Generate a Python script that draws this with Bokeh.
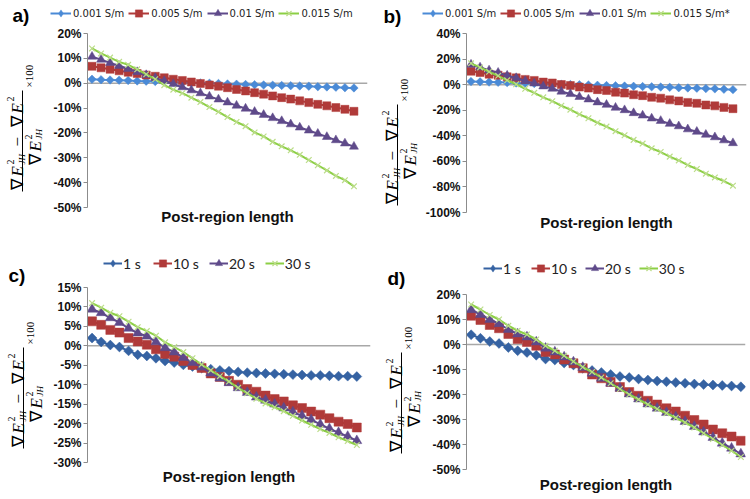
import math
from bokeh.plotting import figure
from bokeh.models import (Range1d, FixedTicker, PrintfTickFormatter, Span,
                          Legend, LegendItem, Label)
from bokeh.layouts import column, row
from bokeh.embed import file_html
from bokeh.resources import INLINE

# ---------------- data (values in %) ----------------
post_region = list(range(1, 31))

sigma_labels_a = ["0.001 S/m", "0.005 S/m", "0.01 S/m", "0.015 S/m"]
sigma_labels_b = ["0.001 S/m", "0.005 S/m", "0.01 S/m", "0.015 S/m*"]
time_labels = ["1 s", "10 s", "20 s", "30 s"]

a_s0001 = [1.6, 1.4, 1.3, 1.2, 1.1, 0.9, 0.8, 0.7, 0.6, 0.5, 0.3, 0.2, 0.1, 0.0, -0.1,
           -0.3, -0.4, -0.5, -0.6, -0.7, -0.8, -0.9, -1.0, -1.1, -1.2, -1.4, -1.5, -1.6, -1.8, -1.9]
a_s0005 = [6.8, 6.2, 5.6, 5.0, 4.4, 3.9, 3.3, 2.8, 2.2, 1.6, 1.1, 0.5, -0.1, -0.7, -1.2,
           -1.8, -2.5, -3.1, -3.8, -4.4, -5.1, -5.8, -6.4, -7.1, -7.8, -8.5, -9.1, -9.8, -10.5, -11.3]
a_s001 = [10.7, 9.5, 8.2, 7.0, 5.8, 4.5, 3.3, 2.1, 0.9, -0.3, -1.6, -2.8, -4.0, -5.3, -6.5,
          -7.7, -9.0, -10.2, -11.5, -12.7, -14.0, -15.2, -16.5, -17.8, -19.0, -20.3, -21.6, -22.9, -24.2, -25.5]
a_s0015 = [14.0, 12.0, 10.3, 8.6, 7.4, 5.6, 3.6, 1.6, -0.8, -2.6, -4.0, -5.8, -7.6, -9.6, -11.5,
           -13.6, -15.6, -17.3, -19.8, -21.4, -23.6, -25.4, -27.0, -28.8, -30.9, -33.0, -35.1, -37.3, -39.0, -41.5]

b_s0001 = [2.4, 2.2, 2.0, 1.8, 1.6, 1.3, 1.1, 0.9, 0.7, 0.5, 0.3, 0.1, -0.1, -0.3, -0.5,
           -0.7, -0.9, -1.1, -1.3, -1.5, -1.7, -1.9, -2.1, -2.4, -2.6, -2.8, -3.1, -3.3, -3.6, -3.9]
b_s0005 = [10.5, 9.5, 8.2, 7.4, 6.1, 5.3, 4.1, 3.3, 2.0, 1.3, 0.1, -0.7, -1.9, -2.7, -3.9,
           -4.6, -5.9, -6.6, -7.9, -8.6, -9.9, -10.6, -11.9, -12.7, -13.9, -14.6, -15.9, -16.6, -17.8, -18.8]
b_s001 = [15.7, 13.5, 11.2, 9.4, 7.1, 5.2, 2.9, 1.0, -1.3, -3.1, -5.4, -7.3, -9.6, -11.5, -13.8,
          -15.7, -18.0, -19.9, -22.2, -24.1, -26.4, -28.3, -30.6, -32.5, -34.9, -36.8, -39.1, -41.1, -43.5, -45.7]
b_s0015 = [16.7, 13.5, 10.1, 6.9, 3.4, 0.3, -3.2, -6.4, -9.9, -12.9, -16.5, -19.6, -23.2, -26.3, -29.8,
           -32.8, -36.4, -39.6, -43.2, -46.1, -49.8, -52.7, -56.3, -59.3, -62.9, -66.0, -69.6, -72.6, -75.4, -79.0]

c_t1 = [2.0, 1.0, 0.2, -0.3, -1.3, -2.3, -2.6, -3.2, -3.9, -4.3, -4.9, -5.3, -5.7, -6.0, -6.3,
        -6.5, -6.7, -6.9, -7.0, -7.1, -7.2, -7.3, -7.4, -7.5, -7.6, -7.6, -7.7, -7.8, -7.8, -7.9]
c_t10 = [6.3, 5.4, 4.1, 3.4, 2.0, 1.1, 0.3, -0.9, -2.1, -2.8, -3.9, -4.9, -5.7, -7.1, -8.0,
         -9.0, -10.0, -11.1, -11.8, -12.8, -13.7, -14.3, -15.3, -16.0, -16.9, -17.7, -18.6, -19.5, -20.1, -21.0]
c_t20 = [9.4, 8.5, 7.2, 6.0, 4.5, 3.3, 2.5, 1.0, -0.5, -1.6, -3.0, -4.3, -5.5, -7.0, -8.3,
         -9.5, -10.8, -12.0, -13.2, -14.0, -15.0, -16.0, -17.0, -18.0, -19.0, -20.2, -21.3, -22.3, -23.3, -24.4]
c_t30 = [11.0, 9.8, 8.5, 7.6, 6.2, 4.8, 3.8, 2.6, 0.9, -0.3, -1.6, -3.2, -4.8, -6.3, -7.8,
         -9.2, -10.8, -12.2, -13.6, -14.8, -15.8, -16.8, -18.0, -19.2, -20.3, -21.4, -22.4, -23.5, -24.5, -25.5]

d_t1 = [3.9, 2.5, 1.2, 0.4, -1.2, -2.5, -3.2, -4.3, -5.8, -6.2, -7.4, -8.2, -9.5, -10.4, -11.2,
        -12.0, -12.8, -13.2, -13.8, -14.2, -14.6, -14.9, -15.2, -15.5, -15.8, -16.0, -16.2, -16.4, -16.6, -16.9]
d_t10 = [11.5, 9.8, 7.8, 6.5, 4.2, 2.2, 1.0, -0.5, -3.0, -4.0, -6.0, -7.5, -9.5, -12.0, -13.5,
         -15.0, -17.0, -19.0, -20.5, -22.5, -24.0, -25.5, -26.8, -28.5, -30.2, -32.0, -34.0, -35.5, -36.8, -38.5]
d_t20 = [13.9, 12.0, 10.0, 8.3, 6.0, 4.2, 3.0, 1.0, -1.5, -3.0, -5.0, -7.0, -9.2, -11.5, -13.5,
         -15.5, -17.5, -19.8, -21.8, -23.8, -25.5, -27.2, -29.0, -30.8, -32.8, -35.0, -37.2, -39.5, -41.5, -43.8]
d_t30 = [16.0, 14.0, 11.8, 10.0, 7.5, 5.5, 4.0, 2.0, -0.5, -2.5, -4.5, -6.8, -9.0, -11.0, -13.2,
         -15.5, -17.8, -20.0, -22.0, -24.0, -25.8, -27.5, -29.3, -31.2, -33.2, -35.5, -37.8, -40.2, -42.5, -45.0]

a_ticks = [-50, -40, -30, -20, -10, 0, 10, 20]
b_ticks = [-100, -80, -60, -40, -20, 0, 20, 40]
c_ticks = [-30, -25, -20, -15, -10, -5, 0, 5, 10, 15]
d_ticks = [-50, -40, -30, -20, -10, 0, 10, 20]

x_title = "Post-region length"

# ---------------- styles ----------------
W1, W2 = 375, 375
H1, H2 = 250, 248
TOP_PAD = 8

BLUE_AB = "#4a8ad6"
BLUE_CD = "#3562a2"
RED = "#b03a39"
PURPLE = "#5f4a8a"
GREEN = "#8ccf45"
GREEN_MK = "#bcdd8a"

MATH_FONT = "Liberation Serif"
# (u along text, dv across, text, size, style)
MATH_RUNS = [
    (0, 0, "∇", 17, "normal"),
    (13, 0, "E", 17, "italic"),
    (25, -7, "2", 10, "normal"),
    (25, 4, "JH", 9, "italic"),
    (43, 0, "−", 17, "normal"),
    (63, 0, "∇", 17, "normal"),
    (76, 0, "E", 17, "italic"),
    (88, -7, "2", 10, "normal"),
    (25, 18, "∇", 17, "normal"),
    (38, 18, "E", 17, "italic"),
    (50, 11, "2", 10, "normal"),
    (50, 21, "JH", 9, "italic"),
    (102, 11, "×100", 11, "normal"),
]
BAR = (-2, 99, 5)


def bare_fig(w, h):
    f = figure(width=w, height=h, output_backend="svg", toolbar_location=None,
               x_range=Range1d(0, w), y_range=Range1d(0, h),
               x_axis_location=None, y_axis_location=None,
               min_border=0, min_border_left=0, min_border_right=0,
               min_border_top=0, min_border_bottom=0, frame_align=False)
    f.outline_line_color = None
    f.grid.visible = False
    f.background_fill_color = "white"
    f.border_fill_color = "white"
    return f


def marker_kw(mk):
    # Excel-style diamond = square turned by 45 degrees
    if mk == "diamond":
        return dict(marker="square", angle=math.pi / 4)
    return dict(marker=mk)


def make_panel(spec):
    ox, oy, w, h = spec["box"]
    L, R, T, B = spec["frame"]
    lw = spec["lw"]
    bl = (L - ox) - lw
    br = w - (R - ox)
    bt = T - oy
    bb = h - (B - oy)
    hh = bt - TOP_PAD
    mw = w - lw
    mh = h - hh

    # ---- main chart ----
    p = figure(width=mw, height=mh, output_backend="svg", toolbar_location=None,
               x_range=Range1d(*spec["xr"]), y_range=Range1d(*spec["yr"]),
               min_border_left=bl, min_border_right=br,
               min_border_top=TOP_PAD, min_border_bottom=bb, frame_align=False)
    p.outline_line_color = None
    p.grid.visible = False
    p.background_fill_color = "white"
    p.border_fill_color = "white"

    ya = p.yaxis[0]
    ya.ticker = FixedTicker(ticks=spec["ticks"])
    ya.formatter = PrintfTickFormatter(format="%d%%")
    ya.major_label_text_font = "Liberation Sans"
    ya.major_label_text_font_size = "12px"
    ya.major_label_text_font_style = "bold"
    ya.major_label_text_color = "#111111"
    ya.axis_line_color = "#8c8c8c"
    ya.major_tick_line_color = "#8c8c8c"
    ya.major_tick_out = 4
    ya.major_tick_in = 0
    ya.minor_tick_out = 0
    ya.minor_tick_in = 0
    ya.major_label_standoff = 2

    xa = p.xaxis[0]
    xa.ticker = FixedTicker(ticks=[])
    xa.axis_line_color = None
    xa.major_tick_line_color = None
    xa.minor_tick_line_color = None
    xa.major_tick_out = 0
    xa.major_tick_in = 0
    xa.axis_label = x_title
    xa.axis_label_text_font = "Liberation Sans"
    xa.axis_label_text_font_size = "15px"
    xa.axis_label_text_font_style = "bold"
    xa.axis_label_text_color = "#111111"
    xa.axis_label_standoff = spec["standoff"]

    p.add_layout(Span(location=0, dimension="width", line_color="#a8a8a8",
                      line_width=1.5, level="underlay"))

    # ---- header with legend key (key glyphs use off-range samples) ----
    hdr = bare_fig(mw, hh)
    items = []
    for (vals, label, color, mk, size, mline) in spec["series"]:
        p.line(post_region, vals, line_color=color, line_width=2)
        if mk == "x":
            p.scatter(post_region, vals, marker="x", size=size,
                      line_color=mline, line_width=1.2)
            k_s = hdr.scatter([-50], [-50], marker="x", size=size,
                              line_color=mline, line_width=1.2)
        else:
            p.scatter(post_region, vals, size=size, fill_color=color,
                      line_color=color, line_width=0.5, **marker_kw(mk))
            k_s = hdr.scatter([-50], [-50], marker=mk, size=size, fill_color=color,
                              line_color=color, line_width=0.5)
        k_l = hdr.line([-60, -50], [-50, -50], line_color=color, line_width=2)
        items.append(LegendItem(label=label, renderers=[k_l, k_s]))

    gh = spec["leg_gh"]
    lx, ly = spec["legend"]
    vx = (lx - ox) - lw
    vy = hh - ((ly - oy) + gh / 2)
    leg = Legend(items=items, orientation="horizontal", location=(vx, vy),
                 glyph_width=spec["leg_gw"], glyph_height=gh,
                 label_standoff=spec["leg_so"],
                 spacing=spec["leg_sp"], padding=0, margin=0,
                 border_line_color=None, background_fill_alpha=0,
                 label_text_font=spec["leg_font"],
                 label_text_font_size=spec["leg_size"],
                 label_height=gh, label_text_baseline="middle",
                 label_text_color="#222222")
    hdr.add_layout(leg)

    # ---- left strip: panel tag and y-axis formula ----
    lf = bare_fig(lw, h)
    tx, ty = spec["tag_pos"]
    lf.add_layout(Label(x=tx - ox, y=h - (ty - oy), text=spec["tag"],
                        text_font="Liberation Sans", text_font_size="19px",
                        text_font_style="bold", text_align="left",
                        text_baseline="middle", text_color="#000000"))
    ax, ay = spec["math"]
    for (u, dv, txt, sz, st) in MATH_RUNS:
        lf.add_layout(Label(x=(ax - ox) + dv, y=h - ((ay - oy) - u), text=txt,
                            angle=math.pi / 2, text_font=MATH_FONT,
                            text_font_size=f"{sz}px", text_font_style=st,
                            text_align="left", text_baseline="alphabetic",
                            text_color="#000000"))
    u0, u1, dv = BAR
    bx = (ax - ox) + dv
    lf.segment(x0=[bx], y0=[h - ((ay - oy) - u0)], x1=[bx], y1=[h - ((ay - oy) - u1)],
               line_color="#000000", line_width=1)

    return row(lf, column(hdr, p))


def sig_series(v1, v2, v3, v4, labels, blue):
    return [
        (v1, labels[0], blue, "diamond", 6, blue),
        (v2, labels[1], RED, "square", 8, RED),
        (v3, labels[2], PURPLE, "triangle", 9, PURPLE),
        (v4, labels[3], GREEN, "x", 8, GREEN_MK),
    ]


def time_series(v1, v2, v3, v4):
    return [
        (v1, time_labels[0], BLUE_CD, "diamond", 7, BLUE_CD),
        (v2, time_labels[1], RED, "square", 9, RED),
        (v3, time_labels[2], PURPLE, "triangle", 10, PURPLE),
        (v4, time_labels[3], GREEN, "x", 8, GREEN_MK),
    ]


spec_a = dict(box=(0, 0, W1, H1), frame=(87, 367, 33, 207), lw=46, xr=(0.5, 31.5), yr=(-50, 20),
              ticks=a_ticks, standoff=0,
              series=sig_series(a_s0001, a_s0005, a_s001, a_s0015, sigma_labels_a, BLUE_AB),
              legend=(50, 13), leg_gh=18, leg_gw=21, leg_so=2, leg_sp=4,
              leg_font="DejaVu Sans", leg_size="10px",
              tag="a)", tag_pos=(12, 14.5), math=(17, 189))
spec_b = dict(box=(W1, 0, W2, H1), frame=(462, 746, 33, 212), lw=47, xr=(0.5, 31.5), yr=(-100, 40),
              ticks=b_ticks, standoff=1,
              series=sig_series(b_s0001, b_s0005, b_s001, b_s0015, sigma_labels_b, BLUE_AB),
              legend=(422, 13), leg_gh=18, leg_gw=21, leg_so=2, leg_sp=4,
              leg_font="DejaVu Sans", leg_size="10px",
              tag="b)", tag_pos=(383, 15.5), math=(392, 203))
spec_c = dict(box=(0, H1, W1, H2), frame=(87, 370, 287, 462), lw=46, xr=(0.5, 31.5), yr=(-30, 15),
              ticks=c_ticks, standoff=5,
              series=time_series(c_t1, c_t10, c_t20, c_t30),
              legend=(103, 263), leg_gh=18, leg_gw=19, leg_so=1, leg_sp=10,
              leg_font="Lato", leg_size="14px",
              tag="c)", tag_pos=(8, 274.5), math=(18, 446))
spec_d = dict(box=(W1, H1, W2, H2), frame=(466, 745, 294, 469), lw=48, xr=(0.5, 30.5), yr=(-50, 20),
              ticks=d_ticks, standoff=6,
              series=time_series(d_t1, d_t10, d_t20, d_t30),
              legend=(483, 268), leg_gh=18, leg_gw=19, leg_so=1, leg_sp=8,
              leg_font="Lato", leg_size="14px",
              tag="d)", tag_pos=(387, 277.5), math=(396, 451))

layout = column(row(make_panel(spec_a), make_panel(spec_b)),
                row(make_panel(spec_c), make_panel(spec_d)))

open("out.html", "w").write(file_html(layout, INLINE))
